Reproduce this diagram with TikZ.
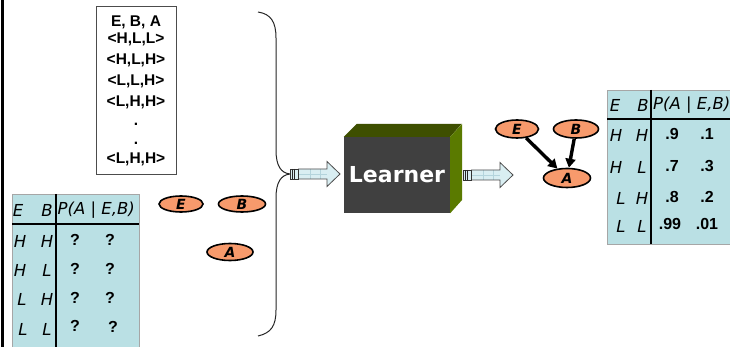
\documentclass[tikz,border=0pt]{standalone}
\usepackage{fontspec}
\setmainfont{Liberation Sans}
\newfontfamily\learnfont{DejaVu Sans}
\newfontfamily\handfont{DejaVu Sans}
\usetikzlibrary{shapes.geometric,arrows.meta}

\definecolor{nodeorange}{HTML}{F79A6C}
\definecolor{tablefill}{HTML}{BAE0E4}
\definecolor{boxfront}{HTML}{404040}
\definecolor{boxtop}{HTML}{3E4F00}
\definecolor{boxside}{HTML}{5A7A00}
\definecolor{arrfill}{HTML}{D9EEF2}
\definecolor{arrgrid}{HTML}{B4D4DC}

\tikzset{
  varnode/.style={ellipse, draw=black, line width=1.6pt, fill=nodeorange,
    inner sep=0pt, minimum width=45pt, minimum height=17pt,
    font=\handfont\bfseries\itshape\fontsize{14}{14}\selectfont},
  datatext/.style={font=\bfseries\fontsize{15.5}{16}\selectfont, inner sep=0pt},
  tabhead/.style={font=\handfont\itshape\fontsize{16.5}{17}\selectfont, inner sep=0pt},
  tabval/.style={font=\bfseries\fontsize{16}{16}\selectfont, inner sep=0pt},
  tabframe/.style={fill=tablefill, draw=gray!70, line width=0.6pt},
  tabrule/.style={black, line width=2.6pt},
  netarrow/.style={black, line width=3.4pt, -{Triangle[length=9pt,width=10pt]}},
  bracepath/.style={black!85, line width=1pt},
  blockarr/.pic={
    % shaft and head
    \fill[arrfill] (8,-5) -- (37,-5) -- (37,-12.5) -- (50,0) -- (37,12.5) -- (37,5) -- (8,5) -- cycle;
    \draw[arrgrid, line width=0.5pt] (20,-5) -- (20,5) (30,-5) -- (30,5) (8,0) -- (37,0);
    \draw[black!70, line width=0.8pt] (8,-5) -- (37,-5) -- (37,-12.5) -- (50,0) -- (37,12.5) -- (37,5) -- (8,5);
    % striped tail
    \fill[arrfill] (0,-5) rectangle (8,5);
    \draw[black!80, line width=0.8pt] (0,-5) rectangle (8,5);
    \draw[black!85, line width=1pt] (2,-5) -- (2,5) (4.5,-5) -- (4.5,5);
  }
}

\begin{document}
\begin{tikzpicture}[x=1pt, y=-1pt]
\useasboundingbox (0,0) rectangle (730,347);
\fill[white] (0,0) rectangle (730,347);
\clip (0,0) rectangle (730,347);

% frame line on the left
\draw[black, line width=3pt] (2,-2) -- (2,350);

% training data
\node[draw=gray!60!black, line width=0.8pt, minimum width=80pt, minimum height=168pt, inner sep=0pt]
  (data) at (136,90) {};
\node[datatext] (d0) at (136,22)  {E, B, A};
\node[datatext] (d1) at (136,39)  {<H,L,L>};
\node[datatext] (d2) at (136,60)  {<H,L,H>};
\node[datatext] (d3) at (136,81)  {<L,L,H>};
\node[datatext] (d4) at (136,102) {<L,H,H>};
\node[datatext] (d5) at (136,124) {.};
\node[datatext] (d6) at (136,143) {.};
\node[datatext] (d7) at (136,159) {<L,H,H>};

% unknown CPT
\draw[tabframe] (12,194) rectangle (139,360);
\draw[tabrule] (12,224) -- (139,224);
\draw[tabrule] (56,194) -- (56,360);
\node[tabhead] (lh1) at (18,210) {E};
\node[tabhead] (lh2) at (47,210) {B};
\node[tabhead, anchor=west] (lh3) at (57.5,210) {P(A | E,B)};
\node[tabhead] (l11) at (20,241) {H};
\node[tabhead] (l12) at (47,241) {H};
\node[tabhead] (l21) at (20,270) {H};
\node[tabhead] (l22) at (47,270) {L};
\node[tabhead] (l31) at (22,299) {L};
\node[tabhead] (l32) at (47,299) {H};
\node[tabhead] (l41) at (23,329) {L};
\node[tabhead] (l42) at (47,329) {L};
\node[tabval] (q11) at (75,240) {?};
\node[tabval] (q12) at (110,240) {?};
\node[tabval] (q21) at (75,269) {?};
\node[tabval] (q22) at (110,269) {?};
\node[tabval] (q31) at (75,298) {?};
\node[tabval] (q32) at (110,298) {?};
\node[tabval] (q41) at (75,326) {?};
\node[tabval] (q42) at (113,327) {?};

% unconnected variables
\node[varnode, minimum width=44pt, minimum height=16pt] (E1) at (181,204) {E};
\node[varnode, minimum width=47pt, minimum height=16pt] (B1) at (242,204) {B};
\node[varnode, minimum width=46pt, minimum height=17pt] (A1) at (230,252) {A};

% brace gathering the inputs
\coordinate (tip) at (290,174);
\draw[bracepath] (258,12) .. controls (271,14) and (276,22) .. (276,38)
  -- (276,150) .. controls (276,166) and (281,173) .. (tip)
  .. controls (281,175) and (276,182) .. (276,198)
  -- (276,310) .. controls (276,326) and (271,333) .. (258,336);

% arrow into the learner
\pic at (tip) {blockarr};

% learner block
\node[fill=boxfront, minimum width=106pt, minimum height=76pt, inner sep=0pt,
  text=white, font=\learnfont\bfseries\fontsize{22}{22}\selectfont] (learner) at (397,175) {Learner};
\fill[boxtop] (learner.north west) -- ++(13,-13) -- ++(105,0) -- (learner.north east) -- cycle;
\fill[boxside] (learner.north east) -- ++(12,-13) -- ++(0,76) -- (learner.south east) -- cycle;

% arrow out of the learner
\coordinate (outtail) at (463,175);
\pic at (outtail) {blockarr};

% learned network
\node[varnode, minimum width=43pt, minimum height=18pt] (E2) at (517,129) {E};
\node[varnode, minimum width=45pt, minimum height=18pt] (B2) at (576,129) {B};
\node[varnode, minimum width=47pt, minimum height=19pt] (A2) at (567,178) {A};
\draw[netarrow] (E2) -- (A2);
\draw[netarrow] (B2) -- (A2);

% learned CPT
\draw[tabframe] (607,90) rectangle (745,244);
\draw[tabrule] (607,119) -- (745,119);
\draw[tabrule] (651,90) -- (651,244);
\node[tabhead] (rh1) at (615,105) {E};
\node[tabhead] (rh2) at (643,105) {B};
\node[tabhead, anchor=west] (rh3) at (653,105) {P(A | E,B)};
\node[tabhead] (r11) at (616,135) {H};
\node[tabhead] (r12) at (642,135) {H};
\node[tabhead] (r21) at (616,167) {H};
\node[tabhead] (r22) at (642,167) {L};
\node[tabhead] (r31) at (621,198) {L};
\node[tabhead] (r32) at (642,198) {H};
\node[tabhead] (r41) at (621,226) {L};
\node[tabhead] (r42) at (642,226) {L};
\node[tabval] (v11) at (672,134) {.9};
\node[tabval] (v12) at (707,134) {.1};
\node[tabval] (v21) at (672,166) {.7};
\node[tabval] (v22) at (707,166) {.3};
\node[tabval] (v31) at (672,197) {.8};
\node[tabval] (v32) at (707,197) {.2};
\node[tabval] (v41) at (670,224) {.99};
\node[tabval] (v42) at (707,224) {.01};
\end{tikzpicture}
\end{document}
